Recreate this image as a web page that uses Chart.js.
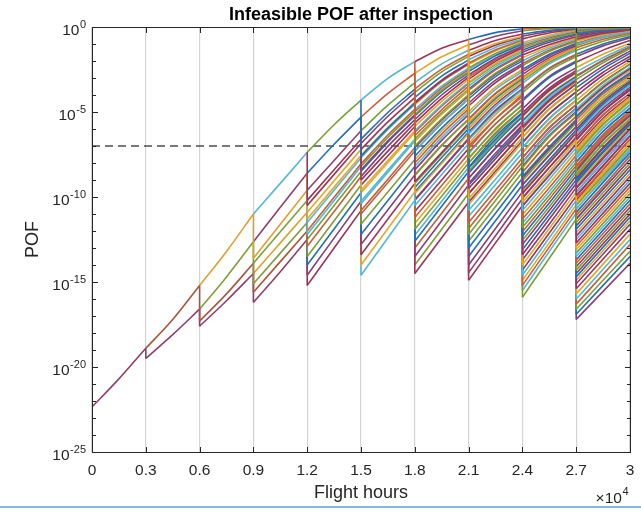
<!DOCTYPE html>
<html>
<head>
<meta charset="utf-8">
<title>Infeasible POF after inspection</title>
<script src="https://cdn.jsdelivr.net/npm/chart.js@4.4.1/dist/chart.umd.min.js"></script>
<style>
  html, body { margin: 0; padding: 0; background: #fff; }
  #wrap { position: relative; width: 641px; height: 512px; overflow: hidden; }
  #bar { position: absolute; left: 0; top: 506px; width: 641px; height: 2px; background: #86b6e2; }
</style>
</head>
<body>
<div id="wrap">
  <canvas id="pofChart" width="641" height="512"></canvas>
  <div id="bar"></div>
</div>
<script>
  // inspection blocks (flight hours): every curve segment runs start -> mid -> end
  const startHours = [0, 3000, 6000, 9000, 12000, 15000, 18000, 21000, 24000, 27000];
  const midHours = [1500, 4500, 7500, 10500, 13500, 16500, 19500, 22500, 25500, 28500];
  const endHours = [3000, 6000, 9000, 12000, 15000, 18000, 21000, 24000, 27000, 30000];

  const xTicks = [0, 3000, 6000, 9000, 12000, 15000, 18000, 21000, 24000, 27000, 30000];
  const xTickLabels = ["0", "0.3", "0.6", "0.9", "1.2", "1.5", "1.8", "2.1", "2.4", "2.7", "3"];
  const yMajorExps = [0, -5, -10, -15, -20, -25];
  const limitPOF = 1e-7;

  // POF read off the plot as n, POF = 10^-n
  // contK: curves not repaired at inspection K  -> [start, mid, end]
  // dropK: curves repaired at inspection K      -> [before, after, mid, end]
  const cont0 = [[22.35, 20.7, 18.9]];
  const drop0 = [];

  const cont1 = [[18.9, 17.2, 15.2]];
  const drop1 = [[18.9, 19.5, 18.1, 16.6]];

  const cont2 = [[15.2, 13.2, 11.0], [16.6, 14.7, 12.63]];
  const drop2 = [[15.2, 17.3, 15.7, 13.9], [16.6, 17.6, 16.1, 14.5]];

  const cont3 = [[11.0, 9.2, 7.37], [12.63, 10.6, 8.6], [13.9, 12.05, 10.2], [14.5, 12.7, 10.9]];
  const drop3 = [[11.0, 13.6, 11.6, 9.6], [12.63, 15.1, 13.3, 11.5], [13.9, 15.6, 13.8, 12.0], [14.5, 16.2, 14.4, 12.5]];

  const cont4 = [[7.37, 5.75, 4.3], [8.6, 6.9, 5.3], [9.6, 7.85, 6.1], [10.2, 8.4, 6.6], [10.9, 9.05, 7.2],
    [11.5, 9.6, 7.7], [12.0, 10.02, 8.05], [12.5, 10.5, 8.5]];
  const drop4 = [[7.37, 10.5, 8.67, 6.85], [8.6, 11.3, 9.42, 7.55], [9.6, 12.2, 10.2, 8.2], [10.2, 12.9, 10.85, 8.8],
    [10.9, 13.5, 11.4, 9.3], [11.5, 14.0, 11.88, 9.75], [12.0, 14.6, 12.42, 10.25], [12.5, 15.2, 13.0, 10.8]];

  const cont5 = [[4.3, 3.02, 2.04], [5.3, 3.9, 2.72], [6.1, 4.6, 3.27], [6.6, 5.03, 3.65], [6.85, 5.25, 3.85],
    [7.2, 5.58, 4.15], [7.55, 5.9, 4.43], [7.7, 6.03, 4.56], [8.05, 6.35, 4.85], [8.2, 6.5, 4.98],
    [8.5, 6.77, 5.23], [8.8, 7.02, 5.45], [9.3, 7.57, 5.85], [9.75, 7.97, 6.2], [10.25, 8.42, 6.6],
    [10.8, 8.95, 7.1]];
  const drop5 = [[4.3, 7.6, 5.95, 4.48], [5.3, 8.4, 6.7, 5.15], [6.1, 9.0, 7.3, 5.65], [6.6, 9.6, 7.85, 6.1],
    [7.2, 10.4, 8.55, 6.7], [7.7, 11.0, 9.15, 7.3], [8.2, 11.6, 9.7, 7.8], [8.8, 12.2, 10.2, 8.2],
    [9.3, 12.8, 10.75, 8.7], [9.75, 13.4, 11.3, 9.2], [10.25, 14.0, 11.85, 9.7], [10.8, 14.6, 12.4, 10.2]];

  const cont6 = [[2.04, 1.25, 0.73], [2.72, 1.75, 1.05], [3.27, 2.17, 1.37], [3.65, 2.48, 1.6], [3.85, 2.64, 1.73],
    [4.15, 2.89, 1.93], [4.43, 3.12, 2.12], [4.48, 3.17, 2.16], [4.56, 3.23, 2.21], [4.85, 3.48, 2.41],
    [4.98, 3.59, 2.5], [5.15, 3.73, 2.62], [5.23, 3.8, 2.68], [5.45, 4.0, 2.82], [5.65, 4.2, 2.95],
    [5.85, 4.37, 3.08], [6.1, 4.58, 3.25], [6.2, 4.66, 3.32], [6.6, 5.03, 3.65], [6.7, 5.12, 3.73],
    [7.1, 5.48, 4.06], [7.3, 5.67, 4.23], [7.8, 6.12, 4.65], [8.2, 6.49, 4.98], [8.7, 6.95, 5.4],
    [9.2, 7.49, 5.78], [9.7, 7.94, 6.18], [10.2, 8.4, 6.6]];
  const drop6 = [[2.04, 6.4, 4.87, 3.48], [2.72, 7.0, 5.4, 3.98], [3.27, 7.6, 5.95, 4.48], [3.65, 8.4, 6.67, 5.15],
    [4.15, 9.1, 7.39, 5.68], [4.56, 9.8, 8.03, 6.26], [4.98, 10.5, 8.68, 6.86], [5.45, 11.2, 9.32, 7.45],
    [5.85, 11.9, 9.95, 8.0], [6.2, 12.6, 10.55, 8.5], [7.1, 13.5, 11.4, 9.3], [8.2, 14.5, 12.4, 10.3],
    [2.41, 6.7, 5.13, 3.73], [3.08, 7.3, 5.67, 4.23], [3.85, 8.0, 6.3, 4.82], [4.43, 8.75, 6.98, 5.43],
    [5.15, 9.45, 7.68, 5.98], [5.65, 10.15, 8.35, 6.55], [6.6, 10.85, 9.0, 7.15], [7.8, 11.55, 9.65, 7.75],
    [8.7, 12.25, 10.25, 8.25], [9.2, 13.0, 10.95, 8.9], [9.7, 14.0, 11.9, 9.8]];

  const cont7 = [[0.73, 0.33, 0.1], [1.05, 0.55, 0.22], [1.37, 0.8, 0.41], [1.6, 0.97, 0.54], [1.93, 1.2, 0.7],
    [2.12, 1.34, 0.77], [2.41, 1.55, 0.91], [2.62, 1.7, 1.02], [2.82, 1.84, 1.12], [3.08, 2.02, 1.24],
    [3.25, 2.15, 1.35], [3.48, 2.33, 1.48], [3.73, 2.52, 1.65], [3.98, 2.72, 1.81], [4.23, 2.92, 1.99],
    [4.48, 3.13, 2.16], [4.65, 3.27, 2.27], [4.98, 3.54, 2.5], [5.15, 3.67, 2.62], [5.4, 3.9, 2.79],
    [5.68, 4.13, 2.98], [5.78, 4.21, 3.04], [6.18, 4.56, 3.32], [6.6, 4.92, 3.65], [6.86, 5.16, 3.86],
    [7.45, 5.7, 4.35], [8.0, 6.22, 4.82], [8.5, 6.7, 5.23], [9.3, 7.58, 5.86], [10.3, 8.49, 6.68],
    [1.73, 1.07, 0.6], [2.21, 1.41, 0.81], [2.5, 1.62, 0.96], [2.95, 1.93, 1.18], [3.32, 2.21, 1.39],
    [3.65, 2.46, 1.6], [4.06, 2.79, 1.87], [5.43, 3.92, 2.81], [5.98, 4.38, 3.16], [6.55, 4.88, 3.61],
    [7.15, 5.42, 4.1], [7.75, 5.97, 4.6], [8.25, 6.44, 5.02], [8.9, 7.15, 5.55], [9.8, 8.03, 6.25]];
  const drop7 = [[0.73, 5.6, 4.1, 2.92], [1.37, 6.3, 4.7, 3.42], [1.93, 7.0, 5.4, 3.98], [2.5, 7.7, 6.03, 4.56],
    [3.08, 8.3, 6.6, 5.05], [3.65, 8.9, 7.1, 5.52], [4.23, 9.5, 7.75, 6.0], [4.98, 10.1, 8.3, 6.5],
    [5.68, 10.8, 8.95, 7.1], [6.6, 11.5, 9.6, 7.7], [7.45, 12.2, 10.2, 8.2], [8.5, 13.0, 10.95, 8.9],
    [9.3, 14.0, 11.85, 9.7], [10.3, 14.9, 12.7, 10.5],
    [1.05, 5.95, 4.38, 3.17], [1.6, 6.65, 5.03, 3.7], [2.21, 7.35, 5.7, 4.27], [2.82, 8.0, 6.3, 4.82],
    [3.48, 8.6, 6.85, 5.28], [3.98, 9.2, 7.43, 5.76], [4.65, 9.8, 8.02, 6.25], [5.4, 10.45, 8.62, 6.8],
    [6.18, 11.15, 9.27, 7.4], [6.86, 11.85, 9.9, 7.95], [8.0, 12.6, 10.58, 8.55], [8.5, 13.5, 11.4, 9.3],
    [9.3, 14.45, 12.28, 10.1]];

  const cont8 = [[0.1, 0.04, 0.02], [0.22, 0.09, 0.05], [0.41, 0.2, 0.09], [0.54, 0.26, 0.1], [0.7, 0.35, 0.12],
    [0.91, 0.48, 0.16], [1.02, 0.56, 0.21], [1.12, 0.63, 0.26], [1.24, 0.72, 0.32], [1.35, 0.8, 0.4],
    [1.48, 0.9, 0.47], [1.65, 1.03, 0.57], [1.81, 1.14, 0.64], [1.99, 1.25, 0.71], [2.16, 1.36, 0.78],
    [2.27, 1.44, 0.84], [2.5, 1.6, 0.95], [2.62, 1.69, 1.02], [2.79, 1.8, 1.09], [3.04, 1.97, 1.22],
    [3.32, 2.17, 1.38], [3.65, 2.42, 1.6], [3.86, 2.58, 1.74], [4.35, 2.97, 2.07], [4.82, 3.36, 2.39],
    [5.23, 3.7, 2.67], [5.52, 3.95, 2.87], [5.86, 4.25, 3.09], [6.5, 4.82, 3.57], [7.1, 5.37, 4.06],
    [7.7, 5.92, 4.56], [8.2, 6.39, 4.98], [8.9, 7.17, 5.55], [9.7, 7.94, 6.18], [10.5, 8.67, 6.85],
    [2.98, 1.93, 1.19], [3.17, 2.07, 1.29], [3.7, 2.45, 1.63], [4.27, 2.9, 2.0], [5.05, 3.6, 2.55],
    [5.28, 3.76, 2.71], [5.76, 4.16, 3.02], [6.0, 4.38, 3.2], [6.25, 4.6, 3.38], [6.8, 5.09, 3.82],
    [7.4, 5.64, 4.3], [7.95, 6.15, 4.77], [8.55, 6.73, 5.27], [9.3, 7.5, 5.87], [10.1, 8.28, 6.55]];
  const drop8 = [[0.1, 5.2, 3.75, 2.65], [0.41, 5.9, 4.3, 3.12], [0.77, 6.5, 4.85, 3.57], [1.12, 7.1, 5.4, 4.06],
    [1.48, 7.7, 5.95, 4.56], [1.99, 8.3, 6.45, 5.05], [2.5, 8.8, 7.05, 5.45], [2.92, 9.3, 7.55, 5.85],
    [3.42, 9.8, 8.0, 6.25], [3.98, 10.3, 8.5, 6.67], [4.56, 10.8, 8.95, 7.1], [5.05, 11.3, 9.45, 7.55],
    [5.52, 11.8, 9.9, 7.95], [6.0, 12.3, 10.35, 8.35], [6.68, 12.8, 10.8, 8.75], [7.7, 13.4, 11.3, 9.2],
    [8.2, 14.0, 11.85, 9.7], [8.9, 14.6, 12.4, 10.2], [9.7, 15.2, 12.95, 10.7], [10.5, 15.9, 13.6, 11.3],
    [0.22, 5.55, 4.02, 2.9], [0.54, 6.2, 4.58, 3.35], [0.91, 6.8, 5.12, 3.82], [1.24, 7.4, 5.68, 4.32],
    [1.65, 8.0, 6.2, 4.82], [2.16, 8.55, 6.75, 5.25], [2.62, 9.05, 7.3, 5.65], [3.04, 9.55, 7.8, 6.05],
    [3.65, 10.05, 8.25, 6.46], [4.35, 10.55, 8.73, 6.9], [4.82, 11.05, 9.2, 7.32], [5.23, 11.55, 9.68, 7.75],
    [5.86, 12.05, 10.12, 8.15], [6.5, 12.55, 10.58, 8.55], [7.1, 13.1, 11.05, 8.98], [8.2, 13.7, 11.6, 9.45],
    [8.9, 14.3, 12.12, 9.95], [9.7, 14.9, 12.7, 10.45], [10.5, 15.5, 13.2, 10.95]];

  const cont9 = [[0.02, 0.0, 0.0], [0.09, 0.03, 0.01], [0.16, 0.07, 0.03], [0.26, 0.12, 0.05], [0.4, 0.2, 0.09],
    [0.57, 0.3, 0.14], [0.71, 0.38, 0.18], [0.84, 0.46, 0.22], [1.02, 0.58, 0.28], [1.22, 0.72, 0.37],
    [1.38, 0.84, 0.45], [1.6, 1.0, 0.56], [1.74, 1.11, 0.64], [2.07, 1.36, 0.79], [2.39, 1.6, 0.95],
    [2.65, 1.8, 1.07], [2.87, 1.95, 1.17], [3.09, 2.1, 1.27], [3.57, 2.46, 1.55], [4.06, 2.84, 1.87],
    [4.56, 3.23, 2.18], [4.98, 3.56, 2.5], [5.05, 3.62, 2.55], [5.45, 3.94, 2.82], [5.85, 4.27, 3.09],
    [6.18, 4.55, 3.32], [6.67, 4.98, 3.72], [7.1, 5.37, 4.06], [7.55, 5.77, 4.43], [7.95, 6.13, 4.75],
    [8.35, 6.5, 5.1], [8.75, 6.88, 5.42], [9.2, 7.4, 5.78], [9.7, 7.94, 6.18], [10.2, 8.4, 6.6],
    [10.7, 8.87, 7.04], [11.3, 9.43, 7.55],
    [0.05, 0.02, 0.01], [0.12, 0.05, 0.02], [0.21, 0.1, 0.04], [0.32, 0.15, 0.07], [0.47, 0.24, 0.11],
    [0.64, 0.34, 0.16], [0.78, 0.42, 0.2], [0.95, 0.53, 0.26], [1.09, 0.62, 0.31], [2.9, 1.97, 1.18],
    [3.35, 2.3, 1.42], [3.82, 2.66, 1.72], [4.32, 3.04, 2.03], [4.82, 3.43, 2.38], [5.25, 3.78, 2.68],
    [5.65, 4.1, 2.95], [6.05, 4.43, 3.22], [6.46, 4.78, 3.55], [6.9, 5.17, 3.9], [7.32, 5.55, 4.24],
    [7.75, 5.95, 4.6], [8.15, 6.32, 4.92], [8.55, 6.69, 5.25], [8.98, 7.15, 5.6], [9.45, 7.65, 5.98],
    [9.95, 8.17, 6.4], [10.45, 8.63, 6.82], [10.95, 9.1, 7.25]];
  const drop9 = [[0.02, 4.6, 3.27, 2.2], [0.16, 5.3, 3.82, 2.72], [0.4, 6.0, 4.4, 3.2], [0.71, 6.6, 4.93, 3.65],
    [1.02, 7.2, 5.47, 4.15], [1.38, 7.7, 5.93, 4.56], [1.74, 8.2, 6.39, 4.98], [2.39, 8.7, 6.87, 5.4],
    [2.87, 9.1, 7.3, 5.7], [3.57, 9.5, 7.75, 6.0], [4.06, 9.9, 8.15, 6.4], [4.56, 10.3, 8.55, 6.8],
    [5.05, 10.7, 8.95, 7.2], [5.45, 11.1, 9.35, 7.6], [5.85, 11.5, 9.75, 8.0], [6.18, 11.9, 10.15, 8.4],
    [6.67, 12.3, 10.55, 8.8], [7.1, 12.7, 10.95, 9.2], [7.55, 13.1, 11.35, 9.6], [7.95, 13.5, 11.75, 10.0],
    [8.35, 13.9, 12.15, 10.4], [8.75, 14.3, 12.55, 10.8], [9.2, 14.7, 12.95, 11.2], [9.7, 15.1, 13.35, 11.6],
    [10.2, 15.4, 13.65, 11.9], [10.7, 15.7, 13.95, 12.2], [11.3, 16.0, 14.25, 12.5], [11.3, 16.3, 14.55, 12.8],
    [11.3, 16.6, 14.9, 13.2], [11.3, 16.9, 15.2, 13.5], [11.3, 17.2, 15.55, 13.9],
    [0.09, 4.95, 3.55, 2.45], [0.26, 5.65, 4.1, 2.95], [0.57, 6.3, 4.65, 3.42], [0.84, 6.9, 5.2, 3.9],
    [1.22, 7.45, 5.7, 4.35], [1.6, 7.95, 6.15, 4.77], [2.07, 8.45, 6.63, 5.2], [2.65, 8.9, 7.08, 5.55],
    [3.09, 9.3, 7.52, 5.85], [3.57, 9.7, 7.95, 6.2], [4.06, 10.1, 8.35, 6.6], [4.56, 10.5, 8.75, 7.0],
    [4.98, 10.9, 9.15, 7.4], [5.45, 11.3, 9.55, 7.8], [5.85, 11.7, 9.95, 8.2], [6.18, 12.1, 10.35, 8.6],
    [6.67, 12.5, 10.75, 9.0], [7.1, 12.9, 11.15, 9.4], [7.55, 13.3, 11.55, 9.8], [7.95, 13.7, 11.95, 10.2],
    [8.35, 14.1, 12.35, 10.6], [8.75, 14.5, 12.75, 11.0], [9.2, 14.9, 13.15, 11.4]];

  const contAll = [cont0, cont1, cont2, cont3, cont4, cont5, cont6, cont7, cont8, cont9];
  const dropAll = [drop0, drop1, drop2, drop3, drop4, drop5, drop6, drop7, drop8, drop9];

  // ---- styling ----
  const FONT = '"Liberation Sans", Arial, Helvetica, sans-serif';
  const INK = "#262626";
  const palette = ["#2470b3", "#c4613a", "#e3a72a", "#8a3f78", "#7c9f38", "#55b6d6", "#9c3558"];
  // the first blocks show a few overlapping curves, colours picked by eye
  const earlyCont = [["#8e3f6b"], ["#a8553e"], ["#e0a030", "#7f9f3a"], ["#55b6d6", "#8e3f6b", "#7f9f3a", "#e0a030"]];
  const earlyDrop = [[], ["#8e3f6b"], ["#a8553e", "#8e3f6b"], ["#e0a030", "#7f9f3a", "#a8553e", "#8e3f6b"]];

  function pof(n) {
    return Math.pow(10, -n);
  }

  function segColor(k, i, dropped) {
    const early = dropped ? earlyDrop[k] : earlyCont[k];
    if (early && early[i]) return early[i];
    return palette[(i * 3 + k + (dropped ? 2 : 0)) % palette.length];
  }

  const lineBase = {
    borderWidth: 1.6,
    pointRadius: 0,
    pointHoverRadius: 0,
    fill: false,
  };

  function curve(k, row, color) {
    return Object.assign({}, lineBase, {
      data: [
        { x: startHours[k], y: pof(row[0]) },
        { x: midHours[k], y: pof(row[1]) },
        { x: endHours[k], y: pof(row[2]) },
      ],
      borderColor: color,
      cubicInterpolationMode: "monotone",
    });
  }

  const datasets = [];
  for (let k = dropAll.length - 1; k >= 0; k--) {
    dropAll[k].forEach((r, i) => {
      const c = segColor(k, i, true);
      datasets.push(curve(k, r.slice(1), c));
      datasets.push(Object.assign({}, lineBase, {
        data: [{ x: startHours[k], y: pof(r[0]) }, { x: startHours[k], y: pof(r[1]) }],
        borderColor: c,
        tension: 0,
      }));
    });
    contAll[k].forEach((r, i) => {
      datasets.push(curve(k, r, segColor(k, i, false)));
    });
  }
  // inspection limit, drawn under the curves
  datasets.push({
    data: [{ x: 0, y: limitPOF }, { x: 30000, y: limitPOF }],
    borderColor: "#4d4d4d",
    borderWidth: 1.3,
    borderDash: [8, 5],
    pointRadius: 0,
    fill: false,
    tension: 0,
    order: 1,
  });

  function drawSup(ctx, base, sup, xRight, baseY, supY, baseSize, supSize) {
    ctx.font = supSize + "px " + FONT;
    const supW = ctx.measureText(sup).width;
    ctx.textAlign = "right";
    ctx.fillText(sup, xRight, supY);
    ctx.font = baseSize + "px " + FONT;
    ctx.fillText(base, xRight - supW - 0.5, baseY);
  }

  const axesDecor = {
    id: "axesDecor",
    beforeDraw(chart) {
      const ctx = chart.ctx;
      ctx.save();
      ctx.fillStyle = "#fff";
      ctx.fillRect(0, 0, chart.width, chart.height);
      ctx.restore();
    },
    afterDraw(chart) {
      const { ctx, chartArea: a } = chart;
      const xs = chart.scales.x;
      const ys = chart.scales.y;
      const L = Math.round(a.left) + 0.5;
      const R = Math.round(a.right) + 0.5;
      const T = Math.round(a.top) + 0.5;
      const B = Math.round(a.bottom) + 0.5;
      ctx.save();
      ctx.strokeStyle = INK;
      ctx.fillStyle = INK;
      ctx.lineWidth = 1;

      // inward ticks on all four sides
      ctx.beginPath();
      xTicks.forEach((v) => {
        const px = Math.round(xs.getPixelForValue(v)) + 0.5;
        ctx.moveTo(px, B); ctx.lineTo(px, B - 5.5);
        ctx.moveTo(px, T); ctx.lineTo(px, T + 5.5);
      });
      for (let d = 0; d <= 25; d++) {
        const py = Math.round(ys.getPixelForValue(pof(d))) + 0.5;
        const len = d % 5 === 0 ? 5.5 : 3.5;
        ctx.moveTo(L, py); ctx.lineTo(L + len, py);
        ctx.moveTo(R, py); ctx.lineTo(R - len, py);
      }
      ctx.stroke();
      ctx.strokeRect(L, T, R - L, B - T);

      // x tick labels
      ctx.font = "15.5px " + FONT;
      ctx.textAlign = "center";
      ctx.textBaseline = "alphabetic";
      xTicks.forEach((v, i) => {
        ctx.fillText(xTickLabels[i], xs.getPixelForValue(v), 474.5);
      });

      // y tick labels 10^n
      yMajorExps.forEach((e) => {
        const py = ys.getPixelForValue(Math.pow(10, e));
        drawSup(ctx, "10", String(e), a.left - 6, py + 7.5, py + 0.5, 15.5, 11);
      });

      // x10^4 multiplier
      drawSup(ctx, "\u00d710", "4", a.right - 1.5, 503, 495, 15.5, 11);

      // axis labels
      ctx.font = "18px " + FONT;
      ctx.textAlign = "center";
      ctx.fillText("Flight hours", (a.left + a.right) / 2, 498);
      ctx.save();
      ctx.translate(37.5, (a.top + a.bottom) / 2);
      ctx.rotate(-Math.PI / 2);
      ctx.fillText("POF", 0, 0);
      ctx.restore();

      // title
      ctx.font = "bold 18px " + FONT;
      ctx.fillStyle = "#000";
      ctx.fillText("Infeasible POF after inspection", (a.left + a.right) / 2, 20);
      ctx.restore();
    },
  };

  new Chart(document.getElementById("pofChart"), {
    type: "line",
    data: { datasets: datasets },
    options: {
      responsive: false,
      devicePixelRatio: 1,
      animation: false,
      events: [],
      layout: { padding: { top: 27, right: 11, left: 0, bottom: 0 } },
      plugins: {
        legend: { display: false },
        title: { display: false },
        tooltip: { enabled: false },
      },
      scales: {
        x: {
          type: "linear",
          min: 0,
          max: 30000,
          afterBuildTicks(scale) {
            scale.ticks = xTicks.map((v) => ({ value: v }));
          },
          ticks: { display: false },
          grid: { color: "#d4d4d4", lineWidth: 1.2, drawTicks: false },
          border: { display: false },
          afterFit(scale) {
            scale.height = 60;
          },
        },
        y: {
          type: "logarithmic",
          min: 1e-25,
          max: 1,
          ticks: { display: false },
          grid: { display: false },
          border: { display: false },
          afterFit(scale) {
            scale.width = 92;
          },
        },
      },
    },
    plugins: [axesDecor],
  });
</script>
</body>
</html>
